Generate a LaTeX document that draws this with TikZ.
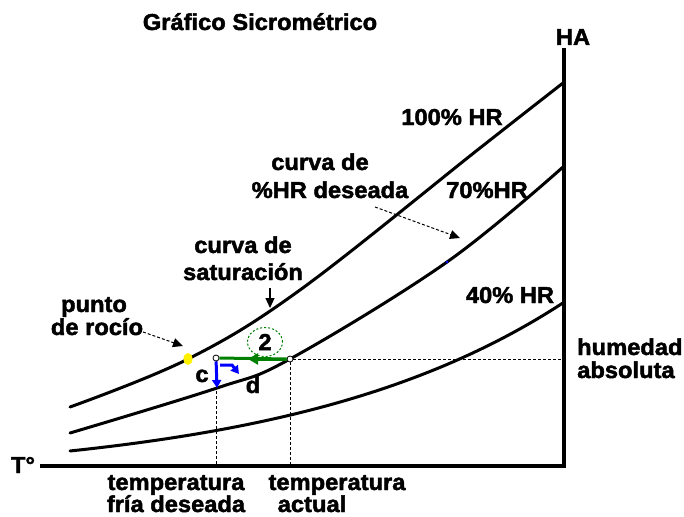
\documentclass[tikz,border=0pt]{standalone}
\usepackage{fontspec}
\newfontfamily\labfont{Liberation Sans}[FakeStretch=1.03, BoldFeatures={FakeBold=2}]
\usetikzlibrary{arrows.meta,shapes.geometric}
\definecolor{dgreen}{RGB}{0,128,0}
\definecolor{pblue}{RGB}{0,0,255}
\definecolor{pyellow}{RGB}{255,240,0}
\tikzset{
  lbl/.style={font=\labfont\bfseries\fontsize{23}{23}\selectfont, inner sep=0pt, anchor=base},
  curve/.style={line width=3pt, line join=round, line cap=round},
  axisline/.style={line width=3.5pt},
  guide/.style={line width=1pt, dash pattern=on 3pt off 2pt},
  tip/.style={-{Triangle[length=10pt,width=9pt]}},
  ptmark/.style={circle, draw, fill=white, line width=0.8pt, minimum size=6pt, inner sep=0pt},
}
\begin{document}
\begin{tikzpicture}[x=1pt,y=-1pt]
\useasboundingbox (0,0) rectangle (684,516);
% axes
\coordinate (origin) at (40,466);
\coordinate (corner) at (564,466);
\coordinate (top) at (564,48);
\draw[axisline] (origin) -- (corner) -- (top);
% curves
\draw[curve] plot[smooth, tension=0.6] coordinates {(70,407) (188,359) (300,290) (480,148) (563,83)};
\draw[curve] plot[smooth, tension=0.6] coordinates {(70,433) (217,388) (290,359) (447,262) (563,167)};
\draw[curve] plot[domain=70:563, samples=60] (\x, {466 + 13.6 - 22.1*exp(0.0037*\x)});
% labels
\node[lbl] (title) at (260,30) {Gráfico Sicrométrico};
\node[lbl] (ha) at (573,45) {HA};
\node[lbl] (t) at (23,473) {T°};
\node[lbl] (hr100) at (452,125) {100\% HR};
\node[lbl] (hr70) at (487,198) {70\%HR};
\node[lbl] (hr40) at (510,303) {40\% HR};
\node[lbl] (cd1) at (320,170) {curva de};
\node[lbl] (cd2) at (330,198) {\%HR deseada};
\node[lbl] (cs1) at (243,253) {curva de};
\node[lbl] (cs2) at (243,280) {saturación};
\node[lbl] (pr1) at (94,312) {punto};
\node[lbl] (pr2) at (97,335) {de rocío};
\node[lbl, anchor=base west] (hum1) at (577,355) {humedad};
\node[lbl, anchor=base west] (hum2) at (577,378) {absoluta};
\node[lbl] (tf1) at (176,490) {temperatura};
\node[lbl] (tf2) at (176,512) {fría deseada};
\node[lbl] (ta1) at (337,490) {temperatura};
\node[lbl] (ta2) at (312,512) {actual};
\node[lbl] (c) at (202,382) {c};
\node[lbl] (d) at (253,393) {d};
% points
\node[ptmark] (pA) at (216,358) {};
\node[ptmark] (pB) at (290,359) {};
\fill[pyellow] (188,359) ellipse [x radius=4.5pt, y radius=6pt];
\fill[pblue] (447,262) circle (1.5pt);
% guides
\draw[guide] (pA) -- (pA |- corner);
\draw[guide] (pB) -- (pB |- corner);
\draw[guide] (pB) -- (pB -| top);
% annotation arrows
\coordinate (rtail) at (143,332);
\coordinate (rtip) at (183,346);
\draw[guide, tip] (rtail) -- (rtip);
\coordinate (stail) at (270,288);
\coordinate (stip) at (270,308);
\draw[line width=1.2pt, tip] (stail) -- (stip);
\coordinate (dtail) at (375,207);
\coordinate (dtip) at (460,238);
\draw[guide, tip] (dtail) -- (dtip);
% green process
\draw[dgreen, line width=3pt] (pB) -- (pA);
\coordinate (gtip) at (248,359);
\draw[dgreen, line width=3pt, -{Triangle[length=10pt,width=11pt]}] (pB) -- (gtip);
\node[draw=dgreen, line width=1pt, dash pattern=on 2pt off 2pt, ellipse, minimum width=35pt, minimum height=29pt, inner sep=0pt, font=\labfont\bfseries\fontsize{23}{23}\selectfont] (two) at (265,342) {2};
% blue process
\coordinate (bv) at (217,388);
\draw[pblue, line width=3pt, -{Triangle[length=8pt,width=9pt]}] (pA) -- (bv);
\coordinate (bh1) at (220,365);
\coordinate (bh2) at (232,365);
\coordinate (bh3) at (239,374);
\draw[pblue, line width=3pt, -{Triangle[length=8pt,width=9pt]}] (bh1) -- (bh2) -- (bh3);
\end{tikzpicture}
\end{document}
